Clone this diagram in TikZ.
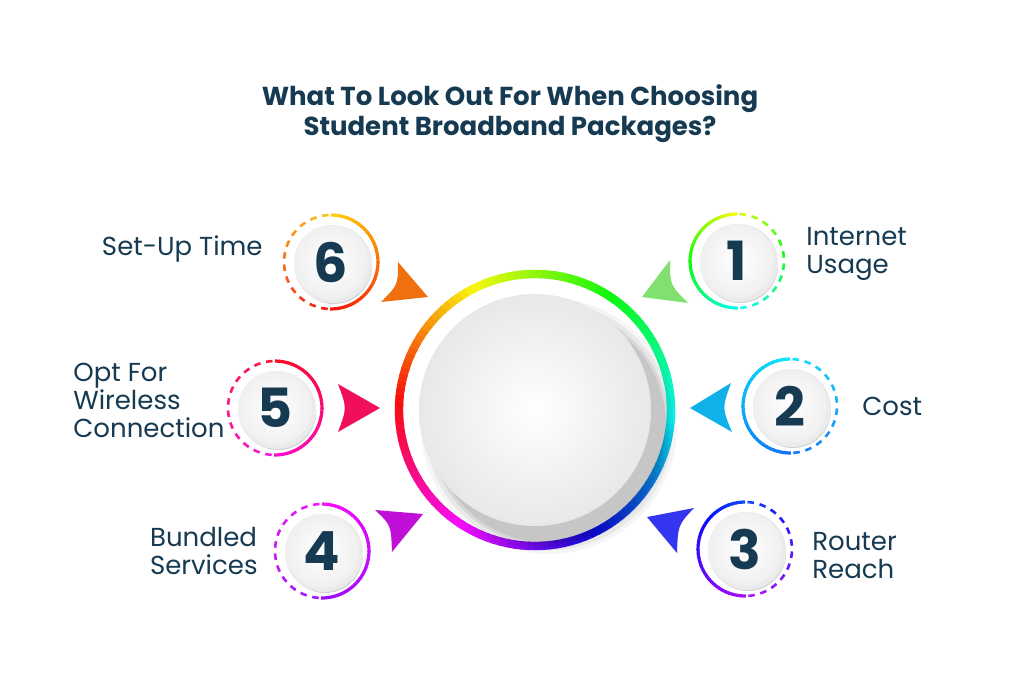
\documentclass[tikz,border=0pt]{standalone}
\usepackage{fontspec}
\setmainfont{Poppins}
\usetikzlibrary{calc}
\definecolor{navy}{HTML}{163A52}
\definecolor{t1}{HTML}{80E070}
\definecolor{t2}{HTML}{10B0E8}
\definecolor{t3}{HTML}{3535F0}
\definecolor{t4}{HTML}{C010D8}
\definecolor{t5}{HTML}{F0105A}
\definecolor{t6}{HTML}{F07010}
\tikzset{lbl/.style={text=navy,font=\fontsize{13}{14}\selectfont,align=left,inner sep=0},
num/.style={text=navy,font=\bfseries\fontsize{27}{28}\selectfont}}
% small circle: #1 name, #2 center, #3 start angle solid, #4 end angle solid, #5 hue start, #6 hue end, #7 number, #8 direction sign
\newcommand{\smallc}[8]{%
 \foreach \k in {0,...,35}{%
  \pgfmathsetmacro\aa{#3+(#4-#3)*\k/36}%
  \pgfmathsetmacro\ab{#3+(#4-#3)*(\k+1.2)/36}%
  \pgfmathsetmacro\hh{mod(#5+(#6-#5)*\k/36+720,360)}%
  \definecolor{tmp}{Hsb}{\hh,0.95,0.98}%
  \draw[tmp,line width=1.6pt] ($(#2)+(\aa:47)$) arc[start angle=\aa,end angle=\ab,radius=47];}
 \foreach \k in {0,...,11}{%
  \pgfmathsetmacro\aa{#4+#8*(\k*15+4)}%
  \pgfmathsetmacro\ab{\aa+#8*8}%
  \pgfmathsetmacro\hh{mod(#6+(#5-#6)*\k/12+720,360)}%
  \definecolor{tmp}{Hsb}{\hh,0.9,0.98}%
  \draw[tmp,line width=1.3pt] ($(#2)+(\aa:47)$) arc[start angle=\aa,end angle=\ab,radius=47];}
 \fill[black!18] ($(#2)+(3,4)$) circle (38);
 \fill[black!8] ($(#2)+(2,2)$) circle (39);
 \shade[inner color=white,outer color=black!6] (#2) circle (37);
 \node[num] (#1) at (#2) {#7};
}
\begin{document}
\begin{tikzpicture}[x=0.5pt,y=-0.5pt]
\useasboundingbox (0,0) rectangle (1024,686);
\fill[white] (0,0) rectangle (1024,686);
\node[text=navy,font=\bfseries\fontsize{13}{15}\selectfont,align=center] (title) at (510,114) {What To Look Out For When Choosing\\Student Broadband Packages?};
% big ring
\coordinate (c) at (535,410);
\foreach \a in {0,3,...,357}{%
 \pgfmathsetmacro\hh{mod(175-\a+720,360)}%
 \definecolor{tmp}{Hsb}{\hh,0.95,0.97}%
 \draw[tmp,line width=4.2pt] ($(c)+(-\a:136)$) arc[start angle=-\a,end angle=-\a-3.6,radius=136];}
% shadow and disk
\foreach \r/\o in {128/0.04,124/0.05,120/0.07,117/0.08}{\fill[black,opacity=\o] ($(c)+(14,16)$) circle (\r);}
\shade[inner color=white,outer color=black!9] (c) circle (116);
\node (center) at (c) {};
% triangles
\fill[t1] (642,297) -- (670,260) .. controls (670,285) .. (688,303) -- cycle;
\fill[t2] (690,408) -- (731,383) .. controls (722,408) .. (732,432) -- cycle;
\fill[t3] (647,517) -- (694,508) .. controls (678,525) .. (677,553) -- cycle;
\fill[t6] (428,297) -- (398,262) .. controls (398,285) .. (381,302) -- cycle;
\fill[t5] (380,408) -- (338,384) .. controls (347,408) .. (338,432) -- cycle;
\fill[t4] (423,514) -- (375,510) .. controls (391,525) .. (392,552) -- cycle;
% small circles
\smallc{n1}{737,261}{-90}{-270}{60}{180}{1}{-1}
\smallc{n2}{790,406}{-90}{-270}{185}{215}{2}{-1}
\smallc{n3}{745,549}{-90}{-270}{225}{280}{3}{-1}
\smallc{n6}{331,262}{-90}{90}{50}{0}{6}{1}
\smallc{n5}{275,408}{-90}{90}{355}{310}{5}{1}
\smallc{n4}{322,551}{-90}{90}{300}{275}{4}{1}
% labels
\node[lbl,anchor=west] (l1) at (806,254) {Internet\\Usage};
\node[lbl,anchor=west] (l2) at (862,406) {Cost};
\node[lbl,anchor=west] (l3) at (812,556) {Router\\Reach};
\node[lbl,anchor=east] (l6) at (263,249) {Set-Up Time};
\node[lbl,anchor=west] (l5) at (73,400) {Opt For\\Wireless\\Connection};
\node[lbl,anchor=east,align=left] (l4) at (258,551) {Bundled\\Services};
\end{tikzpicture}
\end{document}
